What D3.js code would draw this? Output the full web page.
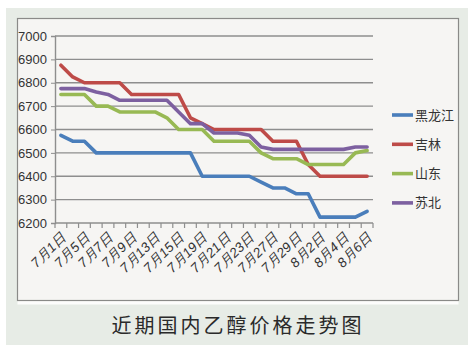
<!DOCTYPE html>
<html>
<head>
<meta charset="utf-8">
<script src="https://cdn.jsdelivr.net/npm/d3@7"></script>
<style>
  body { margin: 0; background: #fff; }
  svg { display: block; }
</style>
</head>
<body>
<svg id="chart" width="474" height="352"></svg>
<script>
// categories (every other one is labelled on the axis)
const dates = ['7月1日','7月3日','7月5日','7月6日','7月7日','7月8日','7月9日','7月11日','7月13日','7月14日',
  '7月15日','7月17日','7月19日','7月20日','7月21日','7月22日','7月23日','7月25日','7月27日','7月28日',
  '7月29日','7月31日','8月2日','8月3日','8月4日','8月5日','8月6日'];

const heilongjiang = [6575,6550,6550,6500,6500,6500,6500,6500,6500,6500,6500,6500,6400,6400,6400,6400,6400,
  6375,6350,6350,6325,6325,6225,6225,6225,6225,6250];
const jilin = [6875,6825,6800,6800,6800,6800,6750,6750,6750,6750,6750,6650,6625,6600,6600,6600,6600,6600,
  6550,6550,6550,6450,6400,6400,6400,6400,6400];
const shandong = [6750,6750,6750,6700,6700,6675,6675,6675,6675,6650,6600,6600,6600,6550,6550,6550,6550,
  6500,6475,6475,6475,6450,6450,6450,6450,6500,6510];
const subei = [6775,6775,6775,6760,6750,6725,6725,6725,6725,6725,6675,6625,6625,6585,6585,6585,6575,6525,
  6515,6515,6515,6515,6515,6515,6515,6525,6525];

const yTicks = [6200,6300,6400,6500,6600,6700,6800,6900,7000];

const series = [
  { name: '黑龙江', values: heilongjiang, colour: '#4a7ebb' },
  { name: '吉林',   values: jilin,        colour: '#be4b48' },
  { name: '山东',   values: shandong,     colour: '#98b954' },
  { name: '苏北',   values: subei,        colour: '#7d60a0' }
];

const svg = d3.select('#chart');
const plot = { left: 55, right: 373, top: 36, bottom: 223 };

// panel and chart frame
svg.append('rect').attr('x', 6).attr('y', 8).attr('width', 462).attr('height', 337).attr('fill', '#e7ece6');
svg.append('rect').attr('x', 17.5).attr('y', 18.5).attr('width', 441).attr('height', 286).attr('fill', '#fdfdfc');
svg.append('rect').attr('x', 17.5).attr('y', 18.5).attr('width', 441).attr('height', 282)
  .attr('fill', '#f6f5f3').attr('stroke', '#8a8a88').attr('stroke-width', 1.2);

const x = d3.scaleBand().domain(dates).range([plot.left, plot.right]);
const y = d3.scaleLinear().domain([6200, 7000]).range([plot.bottom, plot.top]);

// gridlines
svg.append('g').selectAll('line').data(yTicks.slice(1))
  .join('line')
    .attr('x1', plot.left).attr('x2', plot.right)
    .attr('y1', d => y(d)).attr('y2', d => y(d))
    .attr('stroke', '#8e8e8e').attr('stroke-width', 1.4);

// y axis
const yAxis = svg.append('g')
  .attr('transform', `translate(${plot.left},0)`)
  .call(d3.axisLeft(y).tickValues(yTicks).tickSize(4).tickFormat(d3.format('d')));
yAxis.select('.domain').attr('stroke', '#8e8e8e').attr('stroke-width', 1.4);
yAxis.selectAll('.tick line').attr('stroke', '#8e8e8e');
yAxis.selectAll('text')
  .attr('x', -8)
  .attr('fill', '#333')
  .style('font-family', '"Liberation Sans Narrow", "Liberation Sans", Arial, sans-serif')
  .style('font-size', '13px');

// x axis: tick marks between categories
const edges = dates.map(d => x(d)).concat([plot.right]);
svg.append('line')
  .attr('x1', plot.left).attr('x2', plot.right)
  .attr('y1', plot.bottom).attr('y2', plot.bottom)
  .attr('stroke', '#8e8e8e').attr('stroke-width', 1.4);
svg.append('g').selectAll('line').data(edges)
  .join('line')
    .attr('x1', d => d).attr('x2', d => d)
    .attr('y1', plot.bottom).attr('y2', plot.bottom + 5)
    .attr('stroke', '#8e8e8e').attr('stroke-width', 1.2);

svg.append('g').selectAll('text').data(dates.filter((d, i) => i % 2 === 0))
  .join('text')
    .attr('transform', d => `translate(${x(d) + x.bandwidth() / 2 + 6},${plot.bottom + 15}) rotate(-45)`)
    .attr('text-anchor', 'end')
    .attr('fill', '#333')
    .style('font-family', '"Liberation Sans", Arial, sans-serif')
    .style('font-style', 'italic')
    .style('font-size', '13.5px')
    .text(d => d);

// lines
const line = d3.line()
  .x((d, i) => x(dates[i]) + x.bandwidth() / 2)
  .y(d => y(d));

svg.append('g').selectAll('path').data(series)
  .join('path')
    .attr('d', d => line(d.values))
    .attr('fill', 'none')
    .attr('stroke', d => d.colour)
    .attr('stroke-width', 3.6)
    .attr('stroke-linejoin', 'round')
    .attr('stroke-linecap', 'round');

// legend
const legend = svg.append('g').selectAll('g').data(series)
  .join('g')
    .attr('transform', (d, i) => `translate(392,${115 + i * 29.3})`);
legend.append('line')
  .attr('x1', 0).attr('x2', 21)
  .attr('stroke', d => d.colour).attr('stroke-width', 3.6);
legend.append('text')
  .attr('x', 23).attr('dy', '0.35em')
  .attr('fill', '#333')
  .style('font-family', '"Noto Sans CJK SC", sans-serif')
  .style('font-size', '13px')
  .text(d => d.name);

// caption
svg.append('text')
  .attr('x', 238).attr('y', 333)
  .attr('text-anchor', 'middle')
  .attr('fill', '#2a2a2a')
  .style('font-family', '"Noto Sans CJK SC", sans-serif')
  .style('font-size', '20px')
  .style('letter-spacing', '3px')
  .text('近期国内乙醇价格走势图');
</script>
</body>
</html>
